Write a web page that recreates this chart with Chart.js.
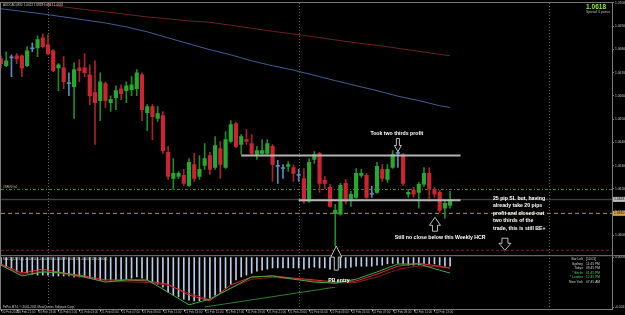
<!DOCTYPE html>
<html>
<head>
<meta charset="utf-8">
<script src="https://cdn.jsdelivr.net/npm/chart.js@4.4.1/dist/chart.umd.min.js"></script>
<style>
html, body { margin: 0; padding: 0; background: #000; }
canvas { display: block; }
</style>
</head>
<body>
<canvas id="chart" width="625" height="315"></canvas>
<script>
// AUDCAD M30 candles
const opens = [
1.06760,1.06730,1.06764,1.06773,1.06773,1.06730,1.06803,1.06807,1.06850,1.06820,
1.06794,1.06721,1.06721,1.06653,1.06640,1.06721,1.06721,1.06691,1.06614,1.06580,
1.06653,1.06571,1.06593,1.06631,1.06623,1.06627,1.06631,1.06691,1.06528,1.06554,
1.06503,1.06516,1.06357,1.06245,1.06254,1.06258,1.06215,1.06305,1.06254,1.06301,
1.06344,1.06292,1.06374,1.06292,1.06404,1.06481,1.06391,1.06412,1.06395,1.06348,
1.06353,1.06353,1.06383,1.06297,1.06288,1.06297,1.06292,1.06258,1.06245,1.06147,
1.06327,1.06353,1.06237,1.06207,1.06095,1.06091,1.06224,1.06155,1.06164,1.06258,
1.06258,1.06177,1.06185,1.06284,1.06241,1.06292,1.06353,1.06348,1.06177,1.06194,
1.06185,1.06220,1.06267,1.06198,1.06185,1.06117,1.06129];
const highs = [
1.06773,1.06790,1.06777,1.06782,1.06777,1.06812,1.06829,1.06859,1.06867,1.06863,
1.06799,1.06739,1.06769,1.06700,1.06743,1.06756,1.06782,1.06734,1.06751,1.06700,
1.06661,1.06601,1.06644,1.06648,1.06661,1.06683,1.06713,1.06700,1.06563,1.06563,
1.06554,1.06533,1.06383,1.06331,1.06275,1.06284,1.06331,1.06353,1.06344,1.06395,
1.06357,1.06425,1.06404,1.06447,1.06494,1.06486,1.06434,1.06455,1.06434,1.06383,
1.06412,1.06412,1.06391,1.06323,1.06305,1.06318,1.06305,1.06284,1.06288,1.06331,
1.06361,1.06357,1.06254,1.06220,1.06134,1.06224,1.06241,1.06190,1.06288,1.06284,
1.06267,1.06211,1.06314,1.06305,1.06305,1.06365,1.06365,1.06353,1.06198,1.06207,
1.06228,1.06292,1.06292,1.06207,1.06194,1.06147,1.06190];
const lows = [
1.06721,1.06726,1.06683,1.06739,1.06683,1.06726,1.06790,1.06769,1.06807,1.06777,
1.06704,1.06623,1.06631,1.06601,1.06503,1.06661,1.06683,1.06563,1.06391,1.06494,
1.06550,1.06533,1.06541,1.06584,1.06571,1.06601,1.06601,1.06494,1.06451,1.06412,
1.06490,1.06353,1.06241,1.06198,1.06245,1.06215,1.06211,1.06232,1.06241,1.06284,
1.06262,1.06284,1.06245,1.06288,1.06400,1.06378,1.06348,1.06391,1.06348,1.06327,
1.06348,1.06348,1.06232,1.06224,1.06245,1.06275,1.06232,1.06232,1.06138,1.06142,
1.06310,1.06185,1.06202,1.06121,1.05954,1.06087,1.06134,1.06125,1.06159,1.06250,
1.06159,1.06164,1.06181,1.06232,1.06228,1.06288,1.06292,1.06215,1.06164,1.06164,
1.06117,1.06211,1.06147,1.06164,1.06099,1.06074,1.06117];
const closes = [
1.06739,1.06751,1.06764,1.06760,1.06721,1.06794,1.06803,1.06842,1.06812,1.06782,
1.06709,1.06734,1.06661,1.06653,1.06713,1.06709,1.06700,1.06601,1.06571,1.06661,
1.06580,1.06584,1.06623,1.06610,1.06644,1.06648,1.06700,1.06541,1.06554,1.06511,
1.06524,1.06365,1.06254,1.06267,1.06267,1.06224,1.06314,1.06245,1.06284,1.06331,
1.06284,1.06387,1.06305,1.06412,1.06477,1.06383,1.06425,1.06404,1.06353,1.06365,
1.06365,1.06395,1.06305,1.06297,1.06288,1.06305,1.06267,1.06258,1.06147,1.06314,
1.06348,1.06224,1.06224,1.06125,1.06108,1.06215,1.06147,1.06177,1.06267,1.06267,
1.06164,1.06177,1.06297,1.06245,1.06284,1.06348,1.06353,1.06224,1.06185,1.06177,
1.06220,1.06267,1.06202,1.06177,1.06108,1.06138,1.06155];

// moving averages, sampled every 4 bars
const lineIdx = [0,4,8,12,16,20,24,28,32,36,40,44,48,52,56,60,64,68,72,76,80,84,86];
const maSlow = [1.07017,1.07009,1.06996,1.06983,1.06972,1.06962,1.06951,1.06940,1.06932,1.06923,1.06917,1.06904,
                1.06891,1.06878,1.06867,1.06854,1.06841,1.06829,1.06818,1.06805,1.06792,1.06779,1.06773];
const maFast = [1.06975,1.06964,1.06953,1.06940,1.06927,1.06914,1.06897,1.06876,1.06850,1.06824,1.06799,1.06777,
                1.06751,1.06730,1.06711,1.06689,1.06666,1.06644,1.06623,1.06599,1.06580,1.06558,1.06550];

// lower window: histogram per bar + three lines
const macdHist = [
-0.00022,-0.00028,-0.00033,-0.00039,-0.00041,-0.00044,-0.00047,-0.00050,-0.00050,-0.00050,
-0.00052,-0.00052,-0.00052,-0.00052,-0.00055,-0.00055,-0.00055,-0.00058,-0.00061,-0.00063,
-0.00063,-0.00063,-0.00063,-0.00063,-0.00061,-0.00058,-0.00055,-0.00058,-0.00063,-0.00069,
-0.00075,-0.00083,-0.00097,-0.00105,-0.00110,-0.00116,-0.00119,-0.00121,-0.00121,-0.00119,
-0.00113,-0.00105,-0.00097,-0.00086,-0.00075,-0.00063,-0.00055,-0.00050,-0.00044,-0.00039,
-0.00036,-0.00033,-0.00030,-0.00030,-0.00030,-0.00030,-0.00030,-0.00030,-0.00033,-0.00030,
-0.00028,-0.00030,-0.00030,-0.00033,-0.00033,-0.00030,-0.00030,-0.00028,-0.00025,-0.00025,
-0.00025,-0.00025,-0.00022,-0.00022,-0.00019,-0.00017,-0.00017,-0.00019,-0.00022,-0.00022,
-0.00022,-0.00019,-0.00019,-0.00019,-0.00022,-0.00025,-0.00025];
const sigRed = [-0.00019,-0.00044,-0.00033,-0.00044,-0.00052,-0.00063,-0.00063,-0.00066,-0.00075,-0.00105,-0.00121,-0.00077,
                -0.00055,-0.00052,-0.00058,-0.00063,-0.00069,-0.00066,-0.00047,-0.00025,-0.00017,-0.00025,-0.00030];
const sigMaroon = [-0.00023,-0.00048,-0.00038,-0.00047,-0.00056,-0.00067,-0.00068,-0.00070,-0.00078,-0.00100,-0.00118,-0.00085,
                   -0.00061,-0.00056,-0.00060,-0.00066,-0.00072,-0.00070,-0.00055,-0.00034,-0.00024,-0.00027,-0.00031];
const sigGreen = [-0.00022,-0.00052,-0.00041,-0.00044,-0.00055,-0.00069,-0.00063,-0.00063,-0.00097,-0.00132,-0.00116,-0.00086,
                  -0.00055,-0.00052,-0.00061,-0.00069,-0.00072,-0.00061,-0.00041,-0.00019,-0.00019,-0.00036,-0.00044];
const divIdx = [39, 64];
const divVal = [-0.00138, -0.00083];

// drawn levels
const levelPrice = [1.06198, 1.06155, 1.06095, 1.05936];
const srFrom = [46, 57];
const srTo = [88, 88];
const srPrice = [1.06344, 1.06151];

// axes
const slotCount = 118;
const timeIdx = [0,3,7,11,15,19,23,27,31,35,39,43,47,51,55,59,63,67,71,75,79,83];
const timeText = ['20 Feb 2012','20 Feb 21:00','20 Feb 23:00','21 Feb 01:00','21 Feb 03:00','21 Feb 05:00',
  '21 Feb 07:00','21 Feb 09:00','21 Feb 11:00','21 Feb 13:00','21 Feb 15:00','21 Feb 17:00','21 Feb 19:00',
  '21 Feb 21:00','21 Feb 23:00','22 Feb 01:00','22 Feb 03:00','22 Feb 05:00','22 Feb 07:00','22 Feb 09:00',
  '22 Feb 11:00','22 Feb 13:00'];
const priceTicks = [1.0700,1.0695,1.0690,1.0685,1.0680,1.0675,1.0670,1.0665,1.0660,1.0655,1.0650,
  1.0645,1.0640,1.0635,1.0630,1.0625,1.0620,1.0615,1.0610,1.0605,1.0600,1.0595];
const daySep = [9, 57, 105];

const slotLabels = new Array(slotCount).fill('');
timeIdx.forEach((ix, k) => { slotLabels[ix] = timeText[k]; });

const GREEN = '#27a82f', RED = '#cc2530', DOJI = '#5a8cc0';
const candleColor = opens.map((o, i) => closes[i] > o ? GREEN : (closes[i] < o ? RED : DOJI));
const wickColor = opens.map((o, i) => closes[i] > o ? '#1f8a27' : (closes[i] < o ? '#a8222c' : DOJI));

// put sampled values on their bar slots, the gaps get spanned
function sparse(xs, ys) {
	const out = new Array(slotCount).fill(null);
	xs.forEach((ix, k) => { out[ix] = ys[k]; });
	return out;
}
const fullLine = (price) => sparse([0, slotCount - 1], [price, price]);

function drawArrow(ctx, cx, tipY, baseY, headW, headH, shaftW) {
	const dir = baseY > tipY ? 1 : -1;
	const hy = tipY + dir * headH;
	ctx.beginPath();
	ctx.moveTo(cx, tipY);
	ctx.lineTo(cx + headW / 2, hy);
	ctx.lineTo(cx + shaftW / 2, hy);
	ctx.lineTo(cx + shaftW / 2, baseY);
	ctx.lineTo(cx - shaftW / 2, baseY);
	ctx.lineTo(cx - shaftW / 2, hy);
	ctx.lineTo(cx - headW / 2, hy);
	ctx.closePath();
	ctx.fillStyle = '#000';
	ctx.fill();
	ctx.strokeStyle = '#e8e8e8';
	ctx.lineWidth = 0.8;
	ctx.stroke();
}

// separators, labels and notes on top of the chart
const decor = {
	id: 'decor',
	beforeDatasetsDraw(chart) {
		const {ctx, chartArea: a, scales: {x}} = chart;
		ctx.save();
		ctx.strokeStyle = '#6a6a6a';
		ctx.lineWidth = 1;
		ctx.setLineDash([1, 2]);
		daySep.forEach(ix => {
			const px = Math.round(x.getPixelForValue(ix)) + 0.5;
			ctx.beginPath(); ctx.moveTo(px, a.top); ctx.lineTo(px, a.bottom); ctx.stroke();
		});
		ctx.restore();
	},
	afterDraw(chart) {
		const {ctx, chartArea: a, scales: {x, y, y2}} = chart;
		ctx.save();
		// frame + window separator
		ctx.strokeStyle = '#7a7a7a';
		ctx.lineWidth = 1;
		ctx.strokeRect(0.5, a.top - 0.5, a.right, a.bottom - a.top + 1);
		ctx.beginPath(); ctx.moveTo(0, y2.top + 0.5); ctx.lineTo(chart.width, y2.top + 0.5); ctx.stroke();

		// price labels on axis
		const tag = (price, bg, txt) => {
			const py = y.getPixelForValue(price);
			ctx.fillStyle = bg;
			ctx.fillRect(a.right + 1, py - 2.5, 13, 5);
			ctx.fillStyle = '#000';
			ctx.font = '3.4px "Liberation Sans"';
			ctx.textAlign = 'left'; ctx.textBaseline = 'middle';
			ctx.fillText(txt, a.right + 2, py);
		};
		tag(levelPrice[1], '#bdbdbd', '1.0618');
		tag(levelPrice[2], '#d9a441', '1.0610');

		// time labels, left edge on the bar
		ctx.fillStyle = '#bdbdbd';
		ctx.font = '3px "Liberation Sans"';
		ctx.textAlign = 'left';
		ctx.textBaseline = 'top';
		timeIdx.forEach((ix, k) => {
			const px = x.getPixelForValue(ix);
			ctx.fillRect(Math.round(px), a.bottom + 1, 1, 1.5);
			ctx.fillText(timeText[k], px + 1, a.bottom + 2);
		});

		// small terminal texts
		ctx.textBaseline = 'middle';
		ctx.textAlign = 'left';
		ctx.fillStyle = '#c8c8c8';
		ctx.font = '3px "Liberation Sans"';
		ctx.fillText('AUDCAD,M30  1.0622 1.0623 1.0617 1.0618', 3, a.top + 2.5);
		ctx.fillText('#SR#0#lvl', 3, y.getPixelForValue(levelPrice[0]) - 2);
		ctx.fillText('MACD(12,26,9) -0.000542 -0.000681 -0.000739 0.000139 -0.000211 0.000041', 3, y2.top + 3.5);
		ctx.fillText('FxPro MT4, \u00a9 2001-2011 MetaQuotes Software Corp.', 3, a.bottom - 2);

		ctx.textAlign = 'right';
		ctx.font = 'bold 6.5px "Liberation Sans"';
		ctx.fillStyle = '#8ef03a';
		ctx.fillText('1.0618', 606, 7);
		ctx.font = '3.3px "Liberation Sans"';
		ctx.fillStyle = '#bdbdbd';
		ctx.fillText('Spread: 6 points', 610, 12.5);

		const sess = [['Bar Left', '[14:01]', '#d0d0d0'], ['Sydney', '11:45 PM', '#d0d0d0'],
			['Tokyo', '09:45 PM', '#d0d0d0'], ['* Berlin', '01:45 PM', '#4fd24f'],
			['* London', '12:45 PM', '#4fd24f'], ['New York', '07:45 AM', '#d0d0d0']];
		ctx.font = '3.3px "Liberation Sans"';
		sess.forEach((s, k) => {
			const ly = y2.top + 4 + k * 4.5;
			ctx.fillStyle = s[2];
			ctx.textAlign = 'right'; ctx.fillText(s[0], 583, ly);
			ctx.textAlign = 'left'; ctx.fillText(s[1], 586, ly);
		});

		// trade notes
		ctx.fillStyle = '#ffffff';
		ctx.font = 'bold 5.2px "Liberation Sans"';
		ctx.textAlign = 'center';
		ctx.fillText('Took two thirds profit', x.getPixelForValue(75.8), y.getPixelForValue(1.06438));
		ctx.fillText('Still no close below this Weekly HCR', x.getPixelForValue(84.1), y.getPixelForValue(1.05992));
		ctx.fillText('PB entry', x.getPixelForValue(64.7), y2.getPixelForValue(-0.00064));
		ctx.textAlign = 'left';
		['25 pip SL but, having', 'already take 20 pips', 'profit and closed out', 'two thirds of the',
			'trade, this is still BE+'].forEach((t, k) => {
			ctx.fillText(t, x.getPixelForValue(94.2), y.getPixelForValue(1.06159) + k * 7.5);
		});

		drawArrow(ctx, x.getPixelForValue(76), y.getPixelForValue(1.06361), y.getPixelForValue(1.06417), 7, 6, 3);
		drawArrow(ctx, x.getPixelForValue(83.1), y.getPixelForValue(1.06078), y.getPixelForValue(1.06018), 11, 8, 5);
		drawArrow(ctx, x.getPixelForValue(96.5), y.getPixelForValue(1.05936), y.getPixelForValue(1.05988), 12, 7, 6);
		drawArrow(ctx, x.getPixelForValue(64.2), y.getPixelForValue(1.05954), y2.getPixelForValue(-0.00036), 11, 11, 4);
		ctx.restore();
	}
};

const ctx = document.getElementById('chart').getContext('2d');

const lineDs = (data, color, axis, order, extra) => Object.assign({
	type: 'line', data: data, borderColor: color, borderWidth: 1, pointRadius: 0,
	spanGaps: true, yAxisID: axis, order: order
}, extra || {});

const chart = new Chart(ctx, {
	type: 'bar',
	data: {
		labels: slotLabels,
		datasets: [
			// levels behind candles
			lineDs(fullLine(levelPrice[0]), '#3f8f3f', 'y', 20, {borderDash: [3, 2, 1, 2]}),
			lineDs(fullLine(levelPrice[1]), '#3c3c3c', 'y', 20, {borderWidth: 1.5}),
			lineDs(fullLine(levelPrice[2]), '#b8905a', 'y', 20, {borderDash: [4, 3]}),
			lineDs(fullLine(levelPrice[3]), '#7a2424', 'y', 20, {borderDash: [3, 2]}),
			lineDs(sparse(lineIdx, maSlow), '#6e2020', 'y', 15),
			lineDs(sparse(lineIdx, maFast), '#3d5f94', 'y', 15),
			// candles
			{data: lows.map((l, i) => [l, highs[i]]), backgroundColor: wickColor, barThickness: 1, grouped: false, yAxisID: 'y', order: 6},
			{data: opens.map((o, i) => [o, closes[i]]), backgroundColor: candleColor, barThickness: 3.5, minBarLength: 1, grouped: false, yAxisID: 'y', order: 5},
			// support / resistance
			lineDs(sparse([srFrom[0], srTo[0]], [srPrice[0], srPrice[0]]), '#b4b4b4', 'y', 1, {borderWidth: 2}),
			lineDs(sparse([srFrom[1], srTo[1]], [srPrice[1], srPrice[1]]), '#b4b4b4', 'y', 1, {borderWidth: 2}),
			// indicator window
			{data: macdHist, backgroundColor: '#b9cde6', barThickness: 1, grouped: false, yAxisID: 'y2', order: 12},
			lineDs(sparse(lineIdx, sigMaroon), '#8a1f1f', 'y2', 9),
			lineDs(sparse(lineIdx, sigRed), '#e0303a', 'y2', 8),
			lineDs(sparse(lineIdx, sigGreen), '#3fae3f', 'y2', 7),
			lineDs(sparse(divIdx, divVal), '#2e7f2e', 'y2', 7)
		]
	},
	options: {
		responsive: false,
		animation: false,
		events: [],
		layout: {padding: {left: 1, top: 2, right: 0, bottom: 0}},
		plugins: {legend: {display: false}, tooltip: {enabled: false}},
		scales: {
			x: {
				type: 'category',
				offset: false,
				grid: {display: false},
				border: {color: '#7a7a7a'},
				ticks: {display: false},
				afterFit: s => { s.height = 6; }
			},
			y: {
				position: 'right',
				stack: 'win',
				stackWeight: 253,
				min: 1.05915,
				max: 1.07,
				afterBuildTicks: ax => { ax.ticks = priceTicks.map(v => ({value: v})); },
				grid: {drawOnChartArea: false, tickLength: 2, color: '#7a7a7a'},
				border: {color: '#7a7a7a'},
				ticks: {color: '#c8c8c8', padding: 1, font: {size: 3.3, family: 'Liberation Sans'}, callback: v => v.toFixed(4)},
				afterFit: s => { s.width = 13; }
			},
			y2: {
				position: 'right',
				stack: 'win',
				stackWeight: 54,
				min: -0.001435,
				max: 0.000055,
				afterBuildTicks: ax => { ax.ticks = [{value: 0}, {value: -0.00138}]; },
				grid: {drawOnChartArea: false, tickLength: 2, color: '#7a7a7a'},
				border: {color: '#7a7a7a'},
				ticks: {color: '#c8c8c8', padding: 1, font: {size: 3.3, family: 'Liberation Sans'}, callback: v => v.toFixed(5)},
				afterFit: s => { s.width = 13; }
			}
		}
	},
	plugins: [decor]
});
</script>
</body>
</html>
